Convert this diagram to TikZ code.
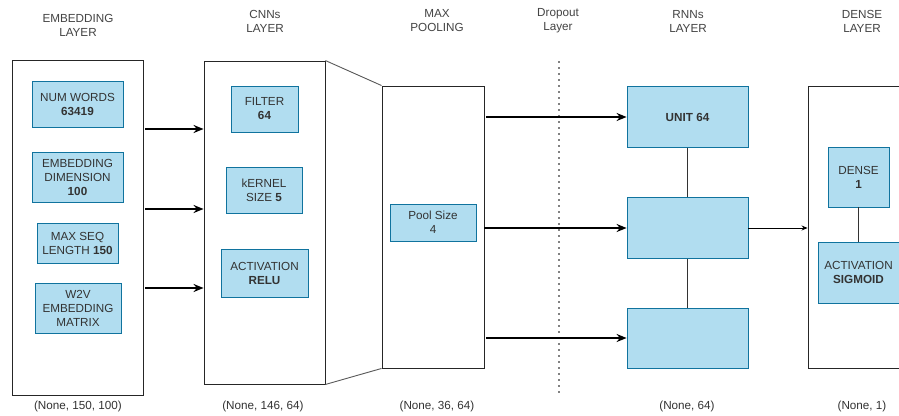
\documentclass[tikz,border=0pt]{standalone}
\usepackage{fontspec}
\setmainfont{Liberation Sans}
\usetikzlibrary{arrows.meta}
\definecolor{bfill}{HTML}{B1DDF0}
\definecolor{bdraw}{HTML}{10739E}
\definecolor{txt}{HTML}{333333}
\definecolor{headtxt}{HTML}{444444}
\begin{document}
\begin{tikzpicture}[x=1pt,y=-1pt,
  font=\fontsize{11.7}{14}\selectfont, text=txt,
  param/.style={draw=bdraw, fill=bfill, line width=0.8pt, align=center, inner sep=0pt},
  layerbox/.style={draw=black!85, fill=white, line width=0.9pt, inner sep=0pt},
  headlbl/.style={align=center, text=headtxt},
  dimlbl/.style={text=txt},
  bigarrow/.style={-{Stealth[length=10pt,width=8pt]}, line width=1.8pt},
  thinarrow/.style={-{Stealth[length=6pt,width=5pt]}, line width=0.8pt},
  link/.style={draw=black!80, line width=0.8pt},
  persp/.style={draw=black!65, line width=0.9pt},
  dropline/.style={line width=1.8pt, line cap=round, dash pattern=on 0pt off 6pt}
]
\clip (0,0) rectangle (899,415);
\fill[white] (0,0) rectangle (899,415);

% headers
\node[headlbl] (h1) at (78,25) {EMBEDDING\\LAYER};
\node[headlbl] (h2) at (265,21) {CNNs\\LAYER};
\node[headlbl] (h3) at (437,21) {MAX\\POOLING};
\node[headlbl] (h4) at (558,21) {Dropout\\Layer};
\node[headlbl] (h5) at (688,21) {RNNs\\LAYER};
\node[headlbl] (h6) at (862,21) {DENSE\\LAYER};

% embedding layer
\node[layerbox, minimum width=131pt, minimum height=335pt] (emb) at (77.5,227.5) {};
\node[param, minimum width=91pt, minimum height=46pt] (nw) at (77.5,104) {NUM WORDS\\\textbf{63419}};
\node[param, minimum width=91pt, minimum height=50pt] (ed) at (77.5,177) {EMBEDDING\\DIMENSION\\\textbf{100}};
\node[param, minimum width=81pt, minimum height=40pt] (ms) at (77.5,243) {MAX SEQ\\LENGTH \textbf{150}};
\node[param, minimum width=86pt, minimum height=50pt] (w2v) at (78,308) {W2V\\EMBEDDING\\MATRIX};

% CNN layer
\node[layerbox, minimum width=121pt, minimum height=323pt] (cnn) at (264.5,222.5) {};
\node[param, minimum width=67pt, minimum height=46pt] (flt) at (264.5,109) {FILTER\\\textbf{64}};
\node[param, minimum width=76pt, minimum height=46pt] (ker) at (264,190) {kERNEL\\SIZE \textbf{5}};
\node[param, minimum width=87pt, minimum height=48pt] (relu) at (264.5,273) {ACTIVATION\\\textbf{RELU}};

% max pooling
\node[layerbox, minimum width=102pt, minimum height=282pt] (pool) at (433,227) {};
\node[param, minimum width=86pt, minimum height=37pt] (ps) at (433,222.5) {Pool Size\\4};
\draw[persp] (cnn.north east) -- (pool.north west);
\draw[persp] (cnn.south east) -- (pool.south west);

% dropout
\coordinate (d1) at (559,62);
\coordinate (d2) at (559,393);
\draw[dropline] (d1) -- (d2);

% RNN layer
\node[param, minimum width=121pt, minimum height=61pt] (r1) at (687.5,117) {\textbf{UNIT 64}};
\node[param, minimum width=121pt, minimum height=61pt] (r2) at (687.5,228) {};
\node[param, minimum width=121pt, minimum height=60pt] (r3) at (687.5,338) {};
\draw[link] (r1) -- (r2);
\draw[link] (r2) -- (r3);

% dense layer
\node[layerbox, minimum width=132pt, minimum height=282pt] (dense) at (874,227) {};
\node[param, minimum width=61pt, minimum height=60pt] (d1n) at (858.5,177) {DENSE\\\textbf{1}};
\node[param, minimum width=81pt, minimum height=61pt] (sig) at (858.5,272.5) {ACTIVATION\\\textbf{SIGMOID}};
\draw[link] (d1n) -- (sig);

% arrows embedding -> CNN
\foreach \yy in {129,209,288} {
  \draw[bigarrow] ([xshift=2pt]emb.east |- 0,\yy) -- (cnn.west |- 0,\yy);
}
% arrows pool -> RNN
\draw[bigarrow] ([xshift=2pt]pool.east |- r1.west) -- (r1.west);
\draw[bigarrow] (pool.east |- r2.west) -- (r2.west);
\draw[bigarrow] ([xshift=2pt]pool.east |- r3.west) -- (r3.west);
% RNN -> dense
\draw[thinarrow] (r2.east) -- (dense.west |- r2.east);

% dimension labels
\node[dimlbl] (s1) at (78,406) {(None, 150, 100)};
\node[dimlbl] (s2) at (263,406) {(None, 146, 64)};
\node[dimlbl] (s3) at (437,406) {(None, 36, 64)};
\node[dimlbl] (s4) at (687,406) {(None, 64)};
\node[dimlbl] (s5) at (862,406) {(None, 1)};
\end{tikzpicture}
\end{document}
